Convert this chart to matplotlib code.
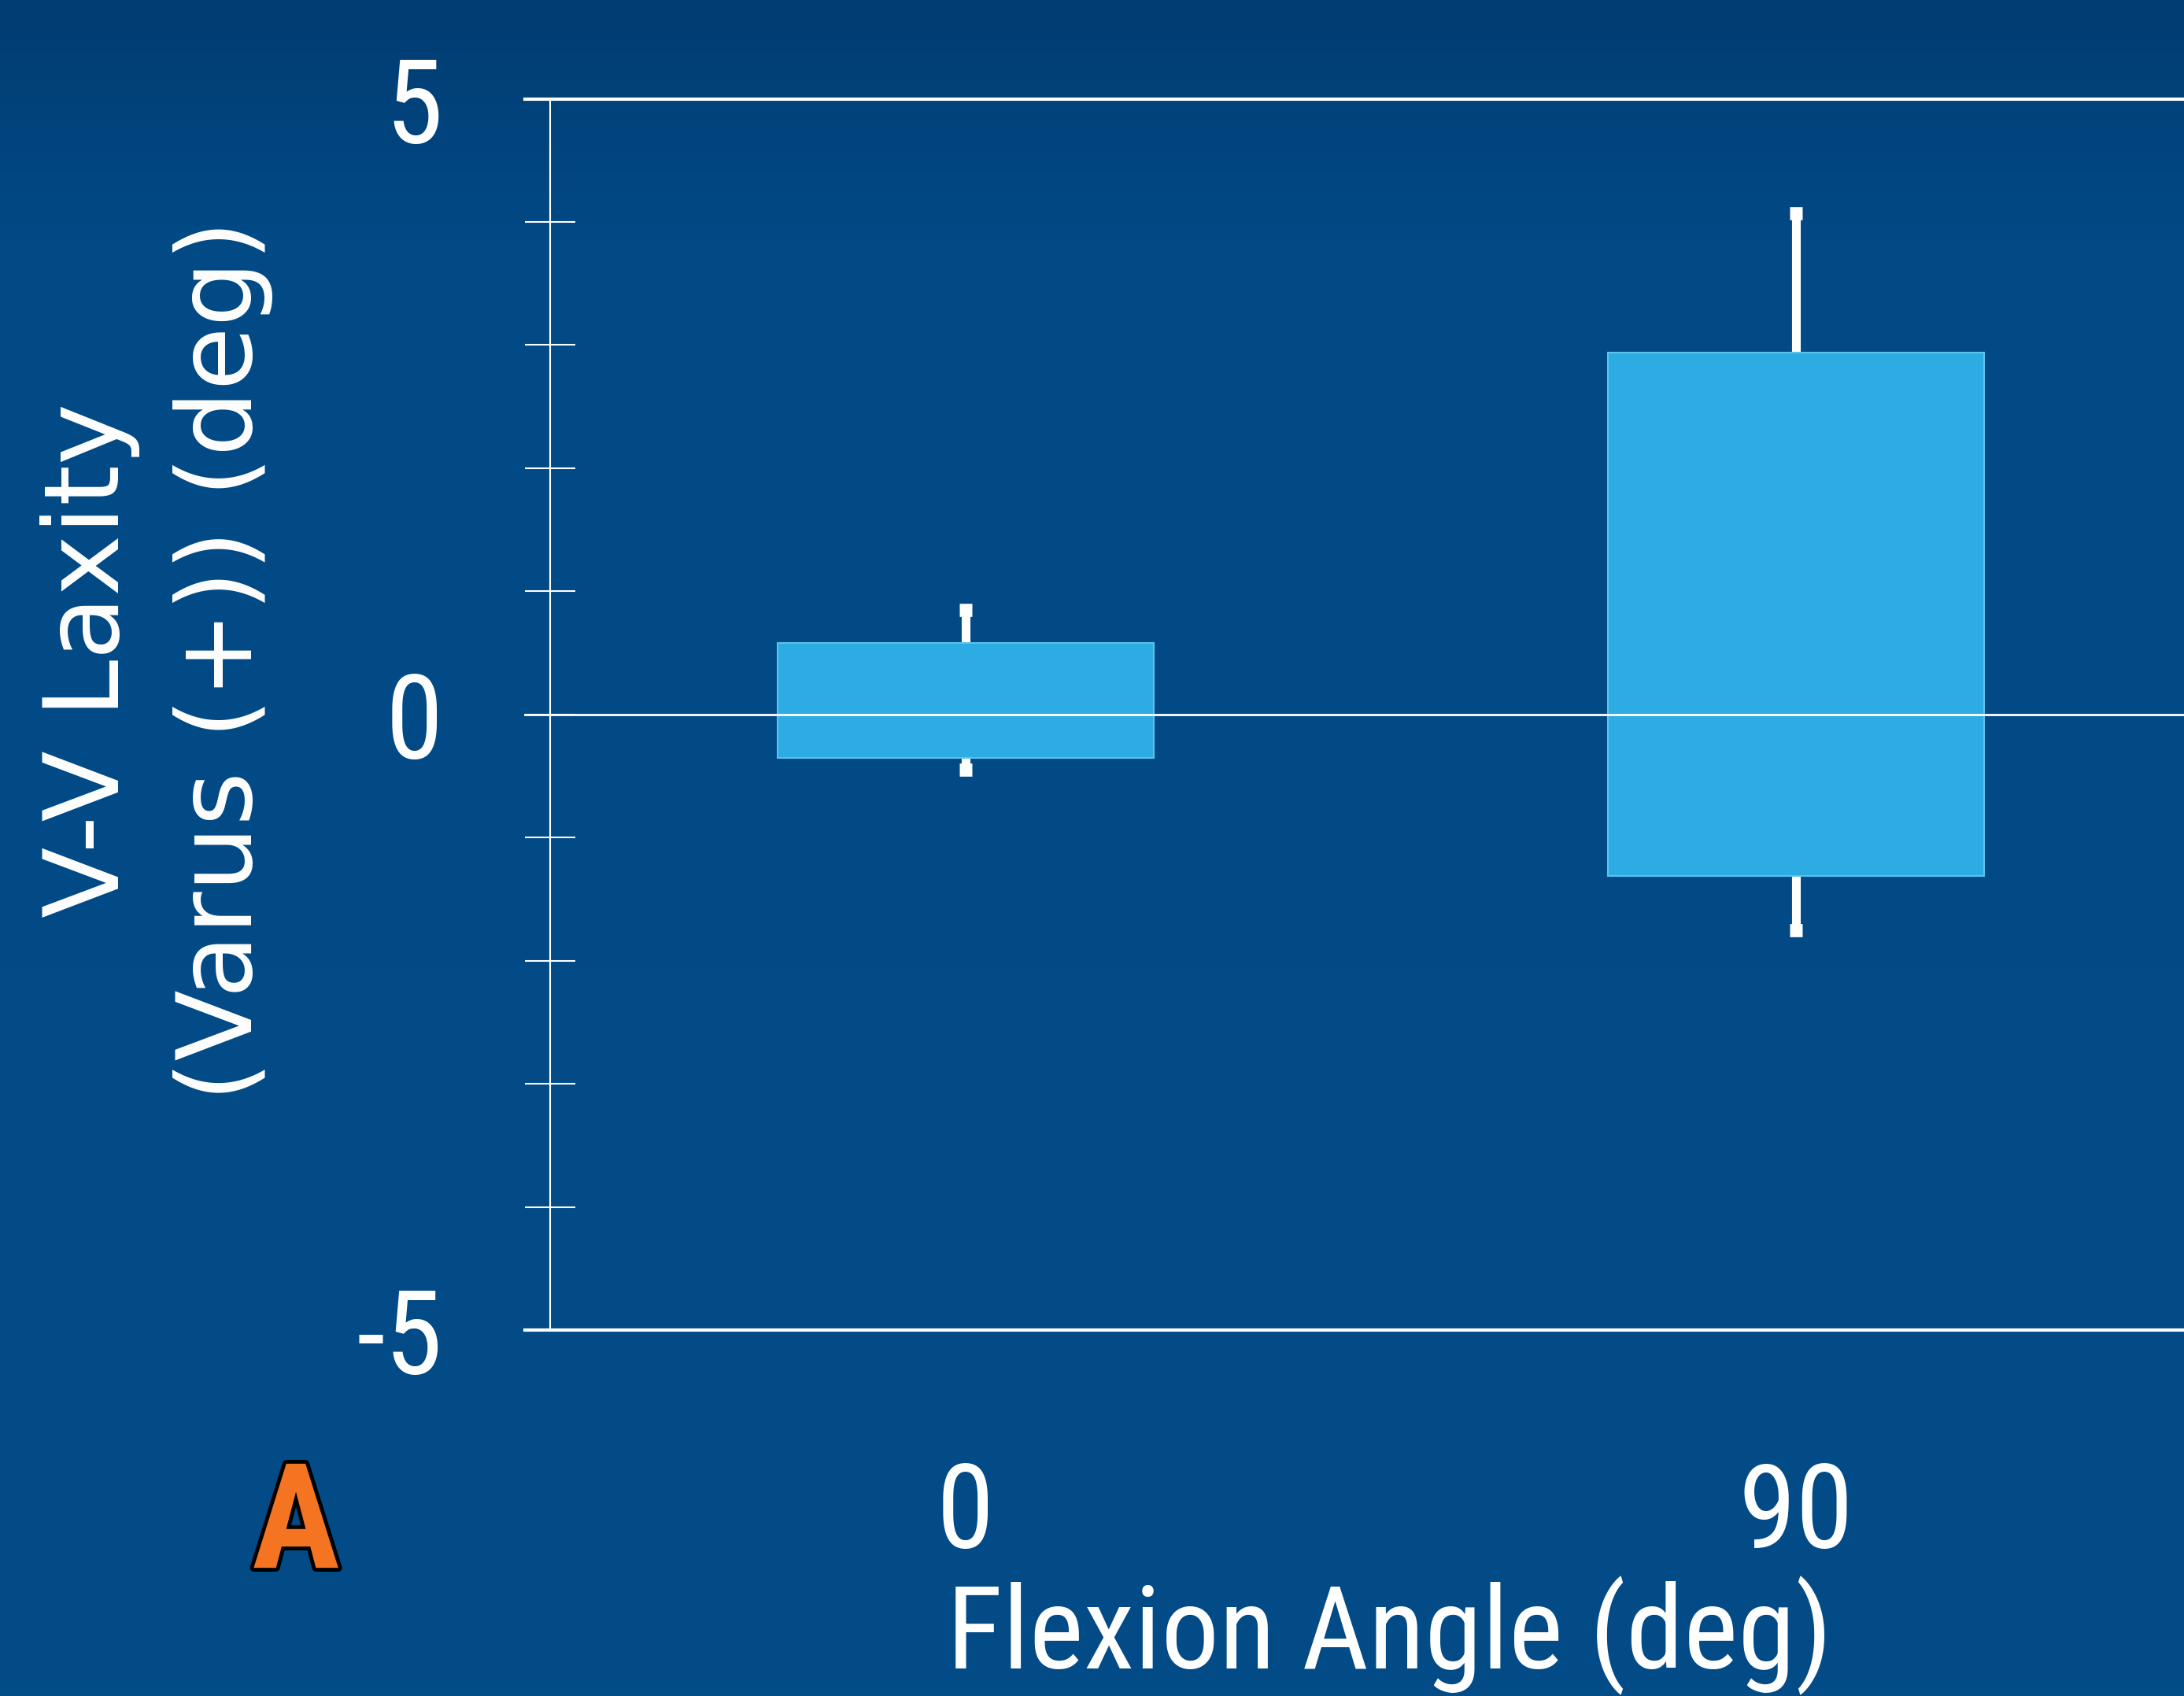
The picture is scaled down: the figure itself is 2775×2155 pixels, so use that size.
import numpy as np
import matplotlib
matplotlib.use('Agg')
import matplotlib.pyplot as plt
import matplotlib.patheffects as pe
from matplotlib import font_manager
from matplotlib.colors import LinearSegmentedColormap

# flexion angle categories and V-V laxity (deg)
categories = ['0', '90']
bar_low = [-0.35, -1.31]
bar_high = [0.58, 2.94]
err_low = [-0.45, -1.75]
err_high = [0.85, 4.07]
ytick_vals = list(range(-5, 6))
ytick_text = ['-5', '', '', '', '', '0', '', '', '', '', '5']

# pick a condensed face if there is one, otherwise shrink the regular one
names = {f.name for f in font_manager.fontManager.ttflist}
narrow = None
for cand in ['Liberation Sans Narrow', 'Roboto Condensed', 'Open Sans Condensed', 'Noto Sans Condensed']:
    if cand in names:
        narrow = cand
        break
if narrow:
    fam, k = [narrow, 'DejaVu Sans'], 1.0
else:
    fam, k = ['Liberation Sans', 'DejaVu Sans'], 0.84

fig = plt.figure(figsize=(27.75, 21.55), dpi=100)

# background gradient
bg = fig.add_axes([0, 0, 1, 1], zorder=-5)
cmap = LinearSegmentedColormap.from_list('bg', [(0, '#013c72'), (0.14, '#024a85'), (1, '#024c88')])
grad = np.linspace(0, 1, 256).reshape(-1, 1)
bg.imshow(grad, aspect='auto', cmap=cmap, extent=[0, 1, 0, 1], origin='upper')
bg.axis('off')

ax = fig.add_axes([0.2519, 0.2158, 0.7481, 0.7259])
ax.set_facecolor('none')

x = np.arange(len(categories))
low = np.array(bar_low)
high = np.array(bar_high)

ax.errorbar(x, (np.array(err_low) + np.array(err_high)) / 2,
            yerr=[(np.array(err_high) - np.array(err_low)) / 2] * 2,
            fmt='none', ecolor='white', elinewidth=8, capsize=6, capthick=12, zorder=1)
ax.bar(x, high - low, bottom=low, width=0.453, color='#2cace3',
       edgecolor='#5cc3ec', linewidth=1.5, zorder=2)

for yv, lw in [(5, 3), (0, 2), (-5, 3)]:
    ax.axhline(yv, xmin=-0.0154, xmax=1, color='white', lw=lw, clip_on=False, zorder=3)

ax.set_xlim(-0.5, 1.467)
ax.set_ylim(-5, 5)

ax.set_yticks(ytick_vals)
ax.set_yticklabels(ytick_text)
ax.tick_params(axis='y', direction='inout', length=46, width=1.5, colors='white',
               pad=75, labelsize=107 * k)
ax.set_xticks(x)
ax.set_xticklabels(categories)
ax.tick_params(axis='x', length=0, colors='white', pad=119, labelsize=107 * k)
for lab in ax.get_xticklabels() + ax.get_yticklabels():
    lab.set_family(fam)

for s in ['top', 'right', 'bottom']:
    ax.spines[s].set_visible(False)
ax.spines['left'].set_color('white')
ax.spines['left'].set_linewidth(1.5)

ax.set_xlabel('Flexion Angle (deg)', color='white', fontsize=106 * k, family=fam, labelpad=4)
ax.xaxis.label.set_x(0.5135)

fig.text(0.0414, 0.6107, 'V-V Laxity', rotation=90, ha='center', va='center',
         color='white', fontsize=95, family='DejaVu Sans')
fig.text(0.102, 0.6107, '(Varus (+)) (deg)', rotation=90, ha='center', va='center',
         color='white', fontsize=95, family='DejaVu Sans')

fig.text(0.1355, 0.099, 'A', ha='center', va='center', color='#f47421',
         fontsize=134 * k, fontweight='bold', family=fam,
         path_effects=[pe.withSimplePatchShadow(offset=(2, -2), shadow_rgbFace='black', alpha=0.6),
                       pe.withStroke(linewidth=7, foreground='black')])

fig.savefig('out.png', dpi=100)
